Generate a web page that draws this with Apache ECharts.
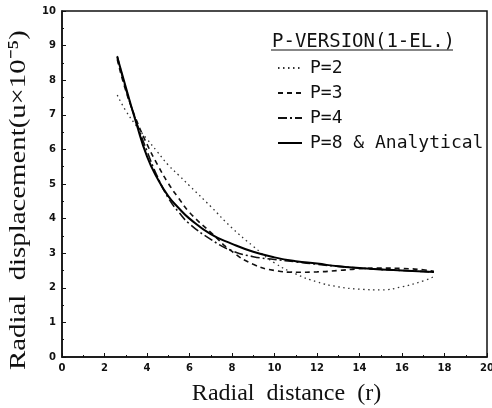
<!DOCTYPE html>
<html><head><meta charset="utf-8">
<script src="https://cdn.jsdelivr.net/npm/echarts@6/dist/echarts.min.js"></script>
<style>html,body{margin:0;padding:0;background:#fff}#c{width:492px;height:408px}</style>
</head><body><div id="c"></div>
<script>
const radius = [2.6,3,3.5,4,4.5,5,5.5,6,7,8,9,10,11,12,13,14,15,16,17,17.5];
const p2 = [7.57,7.12,6.68,6.3,5.92,5.55,5.25,4.95,4.35,3.73,3.2,2.72,2.4,2.17,2.03,1.96,1.94,2.03,2.2,2.32];
const p3 = [8.6,7.7,6.85,6.15,5.55,5.02,4.58,4.18,3.6,3.05,2.68,2.5,2.45,2.46,2.5,2.55,2.57,2.56,2.52,2.48];
const p4 = [8.7,7.75,6.8,5.95,5.2,4.6,4.18,3.85,3.4,3.07,2.9,2.82,2.75,2.68,2.62,2.57,2.53,2.5,2.47,2.45];
const p8 = [8.67,7.8,6.75,5.8,5.15,4.65,4.3,4.0,3.55,3.27,3.04,2.88,2.77,2.7,2.62,2.57,2.53,2.5,2.47,2.46];
const seriesNames = ['P=2','P=3','P=4','P=8 & Analytical'];
const legendTitle = 'P-VERSION(1-EL.)';
const xTitle = 'Radial  distance  (r)';
const yTitle = 'Radial  displacement(u\u00d710\u207b\u2075)';

const pair = ys => radius.map((r,i)=>[r, ys[i]]);
const chart = echarts.init(document.getElementById('c'));
const mono = 'DejaVu Sans Mono';
const serif = 'Liberation Serif';
const axisCommon = {
  axisLine:{lineStyle:{color:'#111',width:1.5}},
  axisTick:{inside:true,length:4,lineStyle:{color:'#111'}},
  minorTick:{show:true,splitNumber:2,length:2,lineStyle:{color:'#111'}},
  axisLabel:{fontFamily:'DejaVu Sans',fontWeight:'bold',fontSize:10,color:'#111',margin:6},
  splitLine:{show:false}
};
chart.setOption({
  animation:false,
  backgroundColor:'#fff',
  grid:{left:62,right:5,top:11,bottom:51,show:true,borderColor:'#111',borderWidth:1.5,
    containLabel:false,outerBoundsMode:'none'},
  title:{text:legendTitle,left:267,top:28,textStyle:{fontFamily:mono,fontSize:19,fontWeight:'normal',color:'#111'}},
  graphic:[
    {type:'line',shape:{x1:271,y1:50,x2:453,y2:50},style:{stroke:'#111',lineWidth:1}},
    {type:'text',x:19,y:200,rotation:Math.PI/2,scaleX:1.2,
      style:{text:yTitle,font:'24px "Liberation Serif"',fill:'#111',align:'center',verticalAlign:'middle'}}
  ],
  legend:{orient:'vertical',left:272,top:54,itemWidth:24,itemHeight:14,itemGap:7,
    itemStyle:{opacity:0},
    textStyle:{fontFamily:mono,fontSize:18,color:'#111',lineHeight:18,padding:[0,0,0,3]},
    data:seriesNames},
  xAxis:Object.assign({type:'value',min:0,max:20,interval:2,
    name:xTitle,nameLocation:'middle',nameGap:25,
    nameTextStyle:{fontFamily:serif,fontSize:24,color:'#111',padding:[0,0,0,24]}},axisCommon),
  yAxis:Object.assign({type:'value',min:0,max:10,interval:1},axisCommon),
  series:[
    {name:seriesNames[0],type:'line',smooth:true,symbol:'none',data:pair(p2),
      itemStyle:{color:'#333'},lineStyle:{color:'#333',width:1.3,type:[1.5,3.5]}},
    {name:seriesNames[1],type:'line',smooth:true,symbol:'none',data:pair(p3),
      itemStyle:{color:'#111'},lineStyle:{color:'#111',width:1.6,type:[5,4]}},
    {name:seriesNames[2],type:'line',smooth:true,symbol:'none',data:pair(p4),
      itemStyle:{color:'#111'},lineStyle:{color:'#111',width:1.6,type:[9,3,2,3]}},
    {name:seriesNames[3],type:'line',smooth:true,symbol:'none',data:pair(p8),
      itemStyle:{color:'#000'},lineStyle:{color:'#000',width:2}}
  ]
});
</script></body></html>
